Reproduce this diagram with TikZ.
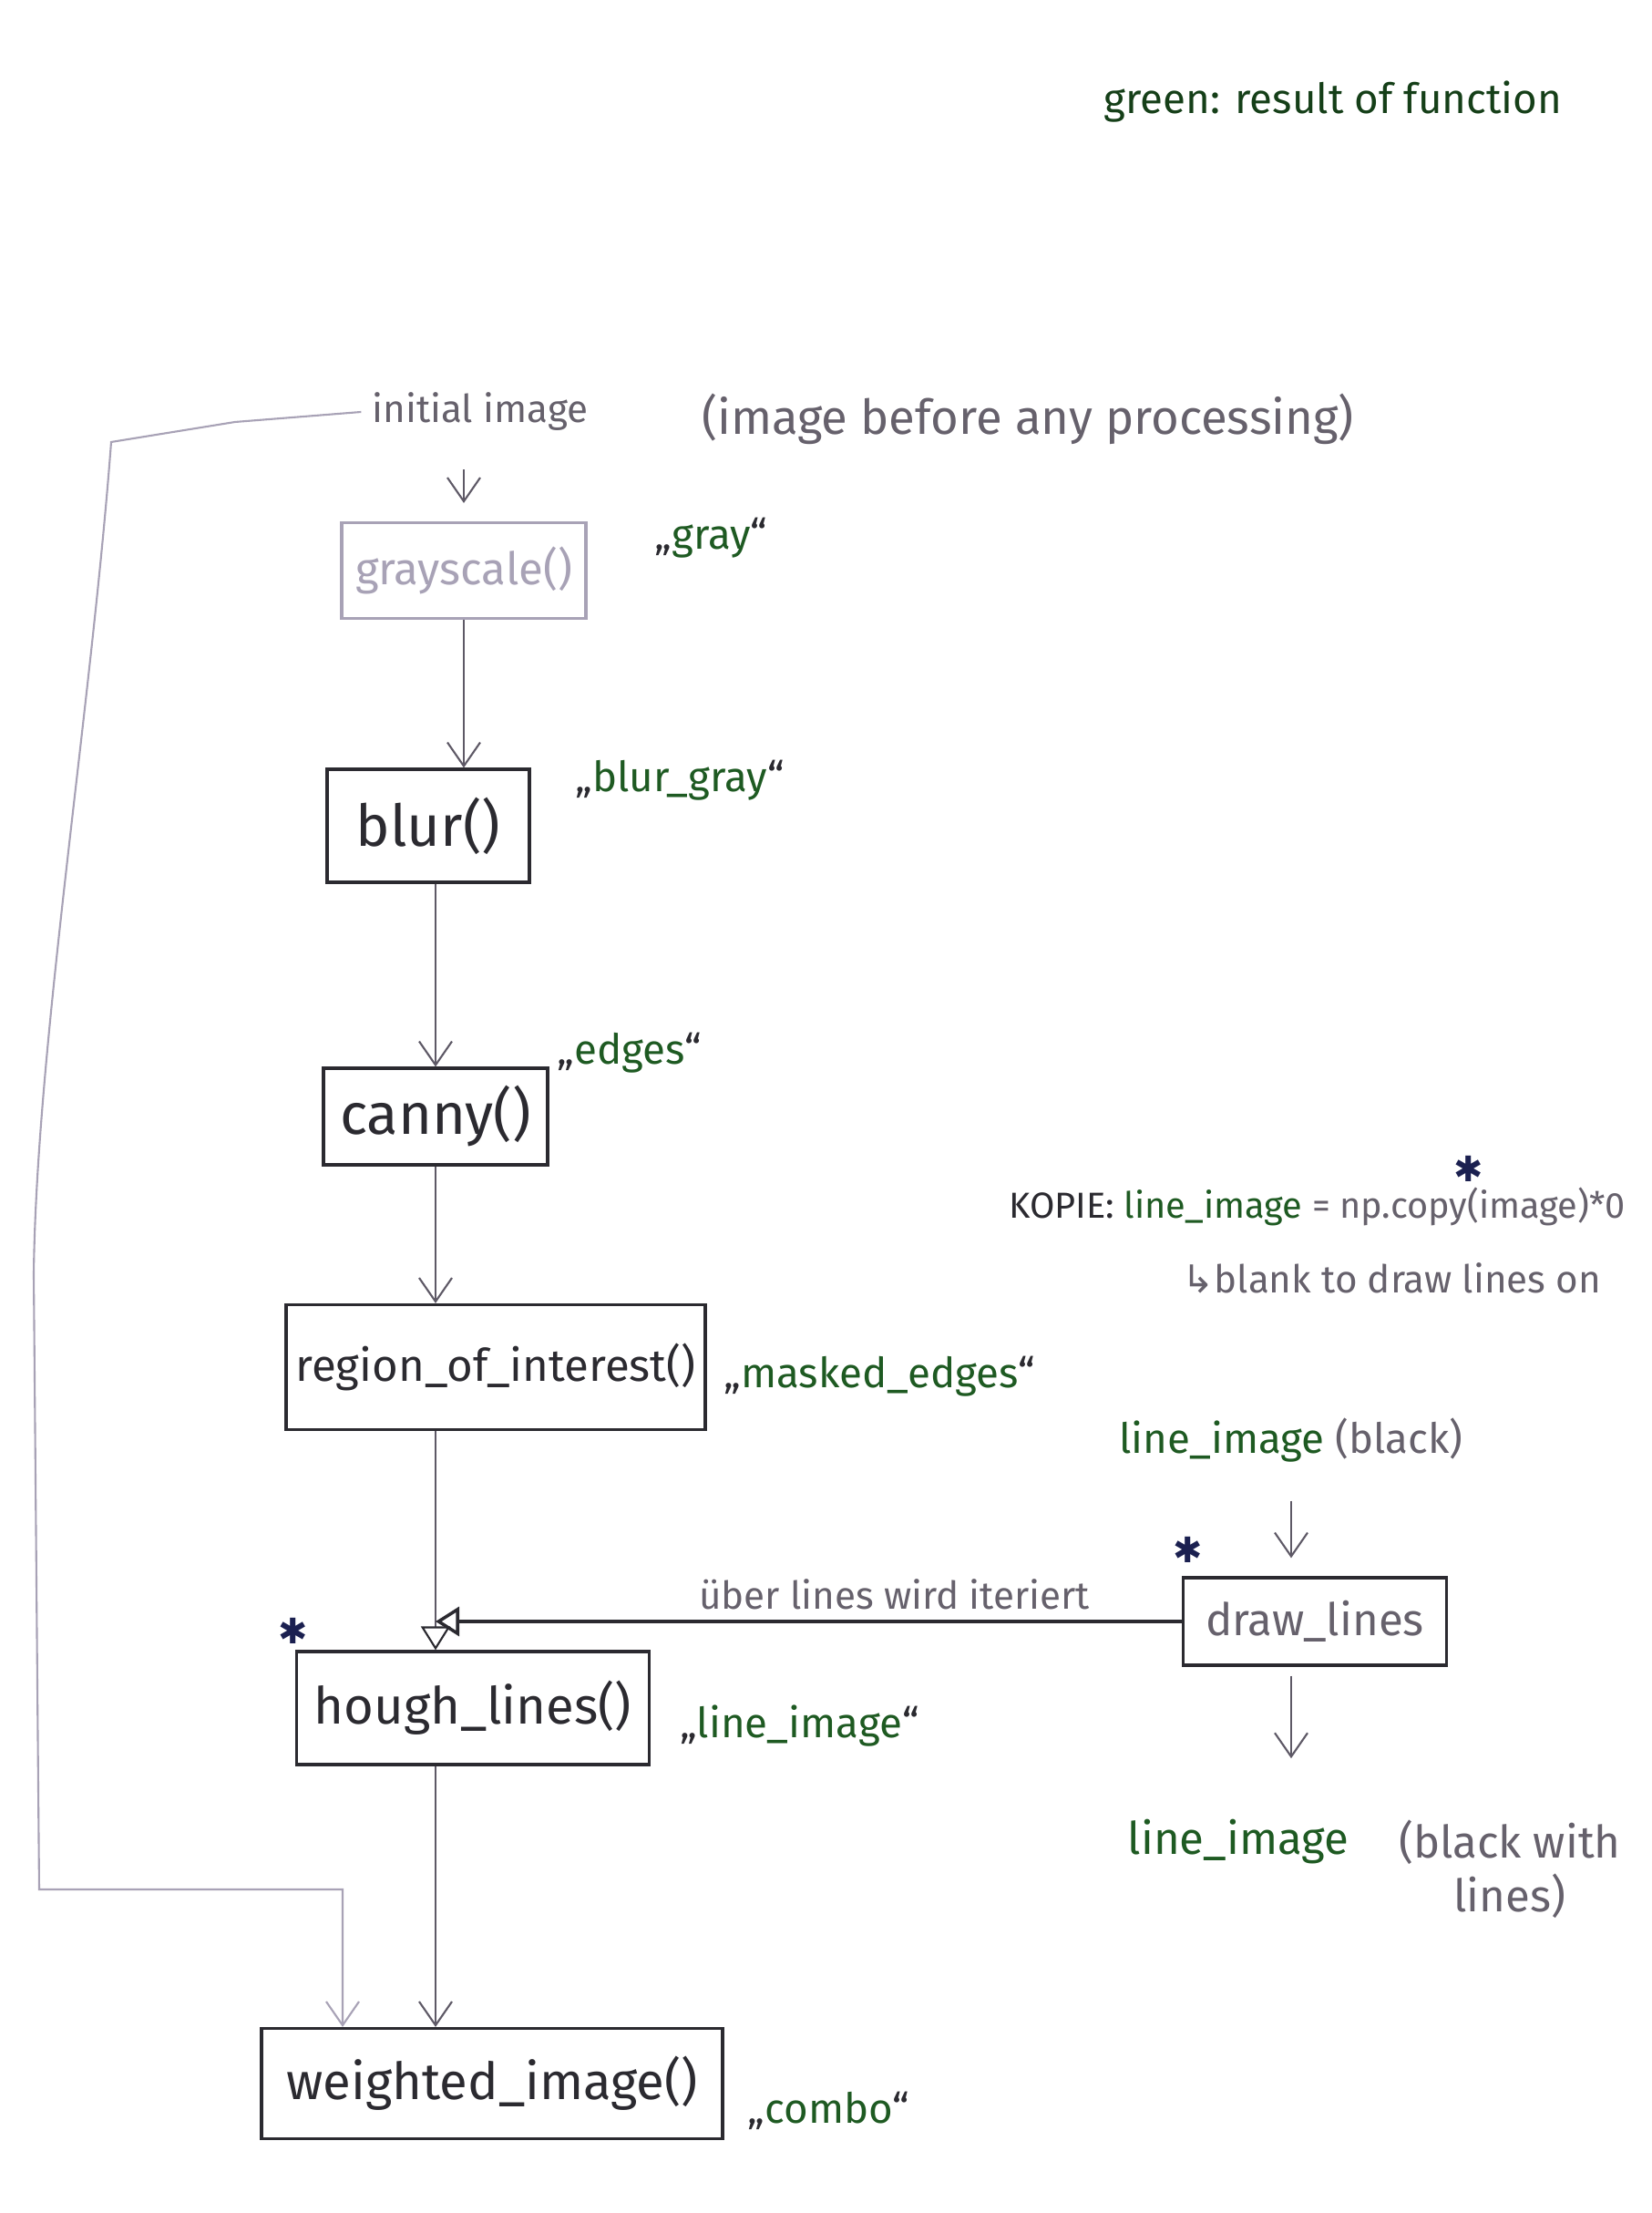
\documentclass[tikz,border=0pt]{standalone}
\usepackage{fontspec}
\setmainfont{Fira Sans}
\newfontfamily\symfont{DejaVu Sans}
\usepackage{tikz}
\usetikzlibrary{arrows.meta,positioning}
\definecolor{ink}{HTML}{2B2A30}
\definecolor{pencil}{HTML}{A8A2B6}
\definecolor{conn}{HTML}{5E5966}
\definecolor{soft}{HTML}{66616C}
\definecolor{resgreen}{HTML}{1E5A22}
\definecolor{navy}{HTML}{1B2050}

\begin{document}
\begin{tikzpicture}[font=\fontsize{13}{16}\selectfont, text=ink,
  fn/.style={draw=ink, line width=0.9pt, inner sep=0pt, font=\fontsize{16}{19}\selectfont},
  res/.style={inner sep=1pt, font=\fontsize{13}{16}\selectfont},
  note/.style={text=soft},
  starmark/.style={text=navy, inner sep=0pt, font=\symfont\fontsize{11}{11}\selectfont},
  arr/.style={-{Straight Barb[length=2.6mm,width=3.6mm]}, line width=0.6pt, draw=conn},
  tri/.style={-{Triangle[open,length=2.6mm,width=3.2mm,color=ink]}, line width=0.6pt, draw=conn}]
\fill[white] (0,0) rectangle (18.12,24.28);
\useasboundingbox (0,0) rectangle (18.12,24.28);

% legend
\node[text=resgreen!70!black] (legend) at (14.63,23.16) {green: result of function};

% main chain
\node[text=soft, font=\fontsize{12}{15}\selectfont] (init) at (5.27,19.76) {initial image};
\node[note, right=1.0cm of init, yshift=-0.08cm, font=\fontsize{15}{18}\selectfont] (before) {(image before any processing)};
\node[fn, draw=pencil, text=pencil, minimum width=2.68cm, minimum height=1.05cm, font=\fontsize{14}{17}\selectfont] (gs) at (5.09,18.02) {grayscale()};
\node[fn, minimum width=2.22cm, minimum height=1.24cm, font=\fontsize{18}{21}\selectfont] (blur) at (4.70,15.22) {blur()};
\node[fn, minimum width=2.46cm, minimum height=1.06cm, font=\fontsize{18}{21}\selectfont] (canny) at (4.78,12.03) {canny()};
\node[fn, minimum width=4.60cm, minimum height=1.37cm, font=\fontsize{14}{17}\selectfont] (roi) at (5.44,9.28) {region\_of\_interest()};
\node[fn, minimum width=3.87cm, minimum height=1.24cm, font=\fontsize{16}{19}\selectfont] (hough) at (5.19,5.54) {hough\_lines()};
\node[fn, minimum width=5.06cm, minimum height=1.21cm] (wimg) at (5.40,1.42) {weighted\_image()};

% results
\node[res, right=0.7cm of gs, yshift=0.36cm] (gray) {„\textcolor{resgreen}{gray}“};
\node[res, right=0.45cm of blur, yshift=0.5cm] (blurgray) {„\textcolor{resgreen}{blur\_gray}“};
\node[res, right=0.05cm of canny, yshift=0.7cm] (edges) {„\textcolor{resgreen}{edges}“};
\node[res, right=0.15cm of roi, yshift=-0.1cm] (masked) {„\textcolor{resgreen}{masked\_edges}“};
\node[res, right=0.28cm of hough, yshift=-0.2cm] (lineimg) {„\textcolor{resgreen}{line\_image}“};
\node[res, right=0.22cm of wimg, yshift=-0.3cm] (combo) {„\textcolor{resgreen}{combo}“};

% copy of the image
\node[anchor=west, font=\fontsize{11.3}{14}\selectfont] (kopie) at (10.95,11.04) {KOPIE: \textcolor{resgreen}{line\_image} \textcolor{soft}{= np.copy(image)*0}};
\node[note, anchor=west, font=\fontsize{12}{15}\selectfont] (blank) at (12.85,10.26) {{\symfont ↳}blank to draw lines on};
\node (lib) at (14.17,8.48) {\textcolor{resgreen}{line\_image} \textcolor{soft}{(black)}};
\node[fn, minimum width=2.89cm, minimum height=0.96cm, font=\fontsize{14}{17}\selectfont, text=soft] (dl) at (14.43,6.49) {draw\_lines};
\node[text=resgreen, font=\fontsize{14}{17}\selectfont] (lwl) at (13.59,4.07) {line\_image};
\node[note, align=center, anchor=north west, xshift=0.3cm, font=\fontsize{14}{17}\selectfont] (lwlnote) at (lwl.north east) {(black with\\lines)};

% stars
\node[starmark] (st1) at (3.22,6.39) {✱};
\node[starmark] (st2) at (16.12,11.46) {✱};
\node[starmark] (st3) at (13.04,7.28) {✱};

% connectors
\draw[arr, shorten <=0.3cm, shorten >=0.2cm] (init.south -| gs.north) -- (gs.north);
\draw[arr] (gs.south) -- (gs.south |- blur.north);
\draw[arr] (canny.north |- blur.south) -- (canny.north);
\draw[arr] (canny.south) -- (canny.south |- roi.north);
\draw[tri] (roi.south -| canny.south) -- (hough.north -| canny.south);
\draw[tri, line width=1pt, draw=ink] (dl.west) -- node[above, pos=0.385, text=soft, font=\fontsize{12}{15}\selectfont] (iter) {über lines wird iteriert} (dl.west -| canny.south);
\draw[arr] (hough.south -| canny.south) -- (wimg.north -| canny.south);
\coordinate (lp) at (3.76,3.55);
\draw[arr, draw=pencil] (init.west) -- (2.58,19.65) -- (1.22,19.43) .. controls (1.0,16.5) and (0.4,12.8) .. (0.37,10.3) -- (0.43,3.55) -- (lp) -- (lp |- wimg.north);
\draw[arr, shorten <=0.3cm, shorten >=0.2cm] (lib.south) -- (lib.south |- dl.north);
\draw[arr, shorten <=0.1cm, shorten >=0.55cm] (lib.south |- dl.south) -- (lib.south |- lwl.north);
\end{tikzpicture}
\end{document}
